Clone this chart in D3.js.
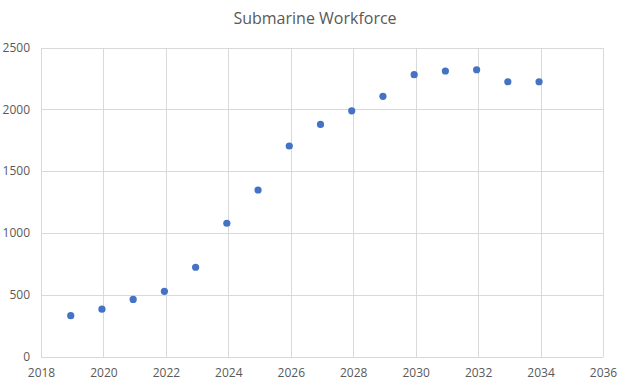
<!DOCTYPE html>
<html lang="en">
<head>
<meta charset="utf-8">
<title>Submarine Workforce</title>
<script src="https://d3js.org/d3.v7.min.js"></script>
<style>
body { margin: 0; background: #fff; }
.grid line { stroke: #d9d9d9; stroke-width: 1; shape-rendering: crispEdges; }
.grid path { display: none; }
.axis text { font-family: "Open Sans", sans-serif; font-size: 12px; fill: #595959; }
.title { font-family: "Open Sans", sans-serif; font-size: 16px; fill: #595959; }
</style>
</head>
<body>
<script>
var years = [2019, 2020, 2021, 2022, 2023, 2024, 2025, 2026, 2027, 2028, 2029, 2030, 2031, 2032, 2033, 2034];
var workforce = [330, 383, 462, 527, 722, 1078, 1347, 1703, 1878, 1988, 2105, 2280, 2310, 2320, 2223, 2223];
var xTicks = [2018, 2020, 2022, 2024, 2026, 2028, 2030, 2032, 2034, 2036];
var yTicks = [0, 500, 1000, 1500, 2000, 2500];

var w = 630, h = 387;
var margin = {top: 47.5, right: 27, bottom: 30.5, left: 41};

var svg = d3.select("body").append("svg")
    .attr("width", w)
    .attr("height", h);

var x = d3.scaleLinear().domain([2018, 2036]).range([margin.left, w - margin.right]);
var y = d3.scaleLinear().domain([0, 2500]).range([h - margin.bottom, margin.top]);

svg.append("g")
    .attr("class", "grid")
    .attr("transform", "translate(0," + (h - margin.bottom) + ")")
    .call(d3.axisBottom(x).tickValues(xTicks).tickSize(-(h - margin.top - margin.bottom)).tickFormat(""));

svg.append("g")
    .attr("class", "grid")
    .attr("transform", "translate(" + margin.left + ",0)")
    .call(d3.axisLeft(y).tickValues(yTicks).tickSize(-(w - margin.left - margin.right)).tickFormat(""));

var xAxis = svg.append("g")
    .attr("class", "axis")
    .attr("transform", "translate(0," + (h - margin.bottom) + ")")
    .call(d3.axisBottom(x).tickValues(xTicks).tickSize(0).tickPadding(12).tickFormat(d3.format("d")));
xAxis.select(".domain").remove();

var yAxis = svg.append("g")
    .attr("class", "axis")
    .attr("transform", "translate(" + margin.left + ",0)")
    .call(d3.axisLeft(y).tickValues(yTicks).tickSize(0).tickPadding(11).tickFormat(d3.format("d")));
yAxis.select(".domain").remove();

svg.selectAll("circle")
    .data(years)
    .enter()
    .append("circle")
    .attr("cx", function(d) { return x(d) - 1.5; })
    .attr("cy", function(d, i) { return y(workforce[i]); })
    .attr("r", 3.6)
    .attr("fill", "#4472c4");

svg.append("text")
    .attr("class", "title")
    .attr("x", w / 2)
    .attr("y", 24)
    .attr("text-anchor", "middle")
    .text("Submarine Workforce");
</script>
</body>
</html>
